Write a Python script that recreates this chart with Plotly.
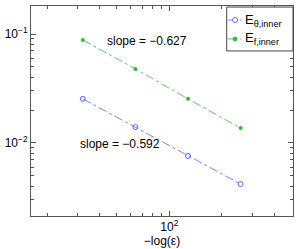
import plotly.graph_objects as go

x_vals = [32, 64, 128, 256]
e_theta = [0.0254, 0.0140, 0.0076, 0.0042]
e_f = [0.0881, 0.0478, 0.0254, 0.0137]
series_names = ["E<sub>\u03b8,inner</sub>", "E<sub>f,inner</sub>"]
slope_labels = ["slope = \u22120.627", "slope = \u22120.592"]

BLUE = "#5566ff"
GREEN = "#33bb33"
AX = "#555555"

fig = go.Figure()
fig.add_trace(go.Scatter(x=x_vals, y=e_theta, mode="lines+markers",
                         name=series_names[0], showlegend=False,
                         line=dict(color=BLUE, width=0.8, dash="dashdot"),
                         marker=dict(symbol="circle-open", size=5, color=BLUE, line=dict(width=1))))
fig.add_trace(go.Scatter(x=x_vals, y=e_f, mode="lines+markers",
                         name=series_names[1], showlegend=False,
                         line=dict(color=GREEN, width=0.8, dash="dashdot"),
                         marker=dict(symbol="circle", size=4, color=GREEN)))

fig.add_annotation(x=1.632, y=-1.064, xref="x", yref="y", text=slope_labels[0],
                   showarrow=False, xanchor="left", font=dict(size=12, color="black"))
fig.add_annotation(x=1.476, y=-2.01, xref="x", yref="y", text=slope_labels[1],
                   showarrow=False, xanchor="left", font=dict(size=12, color="black"))

# compact MATLAB-style legend box
fig.add_shape(type="rect", xref="paper", yref="paper", x0=0.747, x1=1.0, y0=0.786, y1=0.995,
              line=dict(color="#444444", width=1), fillcolor="white", layer="above")
legend_rows = [(0.933, BLUE, True, series_names[0]), (0.843, GREEN, False, series_names[1])]
for yy, col, is_open, label in legend_rows:
    fig.add_shape(type="line", xref="paper", yref="paper", x0=0.751, x1=0.803, y0=yy, y1=yy,
                  line=dict(color=col, width=0.8, dash="dashdot"), layer="above")
    r = 2.5 if is_open else 2
    fig.add_shape(type="circle", xref="paper", yref="paper", xsizemode="pixel", ysizemode="pixel",
                  xanchor=0.779, yanchor=yy, x0=-r, x1=r, y0=-r, y1=r,
                  line=dict(color=col, width=1), fillcolor="white" if is_open else col, layer="above")
    fig.add_annotation(x=0.808, y=yy, xref="paper", yref="paper", text=label, showarrow=False,
                       xanchor="left", yanchor="middle", font=dict(size=13, color="black"))

xminor = [20, 30, 40, 50, 60, 70, 80, 90, 200, 300, 400]
yminor = [0.003, 0.004, 0.005, 0.006, 0.007, 0.008, 0.009,
          0.02, 0.03, 0.04, 0.05, 0.06, 0.07, 0.08, 0.09]

axis_common = dict(type="log", showgrid=False, zeroline=False, showline=True,
                   linecolor=AX, linewidth=1, mirror="ticks", ticks="inside",
                   ticklen=5, tickcolor=AX,
                   tickfont=dict(size=12, color="black"))

fig.update_xaxes(**axis_common, range=[1.2085, 2.708], tickmode="array",
                 tickvals=[100], ticktext=["10<sup>2</sup>"],
                 minor=dict(tickmode="array", tickvals=xminor, ticks="inside",
                            ticklen=3, tickcolor=AX),
                 title=dict(text="\u2212log(\u03b5)", font=dict(size=12, color="black"), standoff=0))
fig.update_yaxes(**axis_common, range=[-2.67, -0.743], tickmode="array",
                 tickvals=[0.01, 0.1], ticktext=["10<sup>\u22122</sup>", "10<sup>\u22121</sup>"],
                 minor=dict(tickmode="array", tickvals=yminor, ticks="inside",
                            ticklen=3, tickcolor=AX))

fig.update_layout(width=299, height=249, margin=dict(l=25, r=5, t=6, b=33),
                  paper_bgcolor="white", plot_bgcolor="white",
                  font=dict(family="Liberation Sans, Arial, sans-serif", size=12, color="black"),
                  showlegend=False)

fig.write_html("out.html", config={"displayModeBar": False},
               post_script="document.body.style.margin='0';")
